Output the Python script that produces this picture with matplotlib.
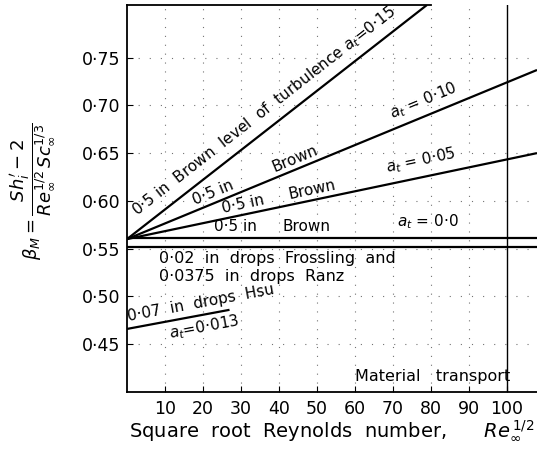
import numpy as np
import matplotlib
matplotlib.use('Agg')
import matplotlib.pyplot as plt
from matplotlib.ticker import FixedLocator, FuncFormatter

# ---- data ----
x_ticks = [10, 20, 30, 40, 50, 60, 70, 80, 90, 100]
y_ticks = [0.45, 0.50, 0.55, 0.60, 0.65, 0.70, 0.75]

brown_015_x = [0, 79]
brown_015_y = [0.56, 0.805]
brown_010_x = [0, 108]
brown_010_y = [0.56, 0.737]
brown_005_x = [0, 108]
brown_005_y = [0.56, 0.650]
brown_000_x = [0, 108]
brown_000_y = [0.561, 0.561]
frossling_x = [0, 108]
frossling_y = [0.552, 0.552]
hsu_x = [0, 27]
hsu_y = [0.466, 0.486]

W, H = 537, 451
fig = plt.figure(figsize=(W / 100, H / 100), dpi=100)
ax = fig.add_axes([127 / W, 1 - 392 / H, 410 / W, 387 / H])
ax.set_xlim(0, 108)
ax.set_ylim(0.40, 0.805)

ax.spines['right'].set_visible(False)
ax.spines['top'].set_bounds(0, 80)
for s in ['left', 'bottom', 'top']:
    ax.spines[s].set_linewidth(1.3)

# faint dotted grid
for xv in x_ticks[:-1]:
    ax.axvline(xv, color='0.45', lw=0.8, ls=(0, (1, 7)), zorder=0)
for yv in y_ticks:
    ax.axhline(yv, color='0.45', lw=0.8, ls=(0, (1, 9)), zorder=0)
ax.axvline(x_ticks[-1], color='k', lw=1.0, zorder=1)

lw = 1.6
for xs, ys in [(brown_015_x, brown_015_y), (brown_010_x, brown_010_y),
               (brown_005_x, brown_005_y), (brown_000_x, brown_000_y),
               (frossling_x, frossling_y), (hsu_x, hsu_y)]:
    ax.plot(xs, ys, color='k', lw=lw, solid_capstyle='butt', clip_on=True)

ax.xaxis.set_major_locator(FixedLocator(x_ticks))
ax.yaxis.set_major_locator(FixedLocator(y_ticks))
fmt_dot = lambda v, p: f"{v:.2f}".replace('.', '·')
ax.yaxis.set_major_formatter(FuncFormatter(fmt_dot))
ax.xaxis.set_major_formatter(FuncFormatter(lambda v, p: f"{int(v)}"))
ax.tick_params(axis='both', direction='in', length=4, width=0.8, labelsize=12.5, pad=5)
ax.tick_params(axis='x', pad=6)


def angle_of(xs, ys):
    p = ax.transData.transform([(xs[0], ys[0]), (xs[1], ys[1])])
    return np.degrees(np.arctan2(p[1, 1] - p[0, 1], p[1, 0] - p[0, 0]))


def line_label(xs, ys, x0, s, perp=3, below=False, fs=11):
    ang = angle_of(xs, ys)
    th = np.radians(ang)
    d = -perp if below else perp
    dx, dy = -np.sin(th) * d, np.cos(th) * d
    ax.annotate(s, xy=(x0, np.interp(x0, xs, ys)), xytext=(dx, dy),
                textcoords='offset points', rotation=ang, rotation_mode='anchor',
                ha='left', va='top' if below else 'bottom', fontsize=fs)


line_label(brown_015_x, brown_015_y, 4.5,
           "0·5 in  Brown  level  of  turbulence $a_t$=0·15", perp=5)
line_label(brown_010_x, brown_010_y, 18.4, "0·5 in", perp=2)
line_label(brown_010_x, brown_010_y, 39.5, "Brown", perp=2)
line_label(brown_010_x, brown_010_y, 71, "$a_t$ = 0·10", perp=4)
line_label(brown_005_x, brown_005_y, 25.5, "0·5 in", perp=2)
line_label(brown_005_x, brown_005_y, 43, "Brown", perp=2)
line_label(brown_005_x, brown_005_y, 69, "$a_t$ = 0·05", perp=5)
line_label(brown_000_x, brown_000_y, 23, "0·5 in", perp=3)
line_label(brown_000_x, brown_000_y, 41, "Brown", perp=3)
line_label(brown_000_x, brown_000_y, 71, "$a_t$ = 0·0", perp=5)

ax.text(8.5, 0.548, "0·02  in  drops  Frossling  and\n0·0375  in  drops  Ranz",
        va='top', ha='left', fontsize=11.5, linespacing=1.3)

line_label(hsu_x, hsu_y, 0.8, "0·07  in  drops  Hsu", perp=3)
line_label(hsu_x, hsu_y, 10.5, "$a_t$=0·013", perp=2, below=True)

ax.text(60, 0.416, "Material   transport", va='center', ha='left', fontsize=11.5)

ax.set_xlabel(r"Square  root  Reynolds  number,      $Re_\infty^{\,1/2}$",
              fontsize=14, labelpad=0)

fig.text(33 / W, 1 - 191 / H,
         r'$\beta_M = \dfrac{Sh_i^{\prime} - 2}{Re_\infty^{1/2}\,Sc_\infty^{1/3}}$',
         rotation=90, ha='center', va='center', fontsize=13)

fig.savefig('out.png', dpi=100)
